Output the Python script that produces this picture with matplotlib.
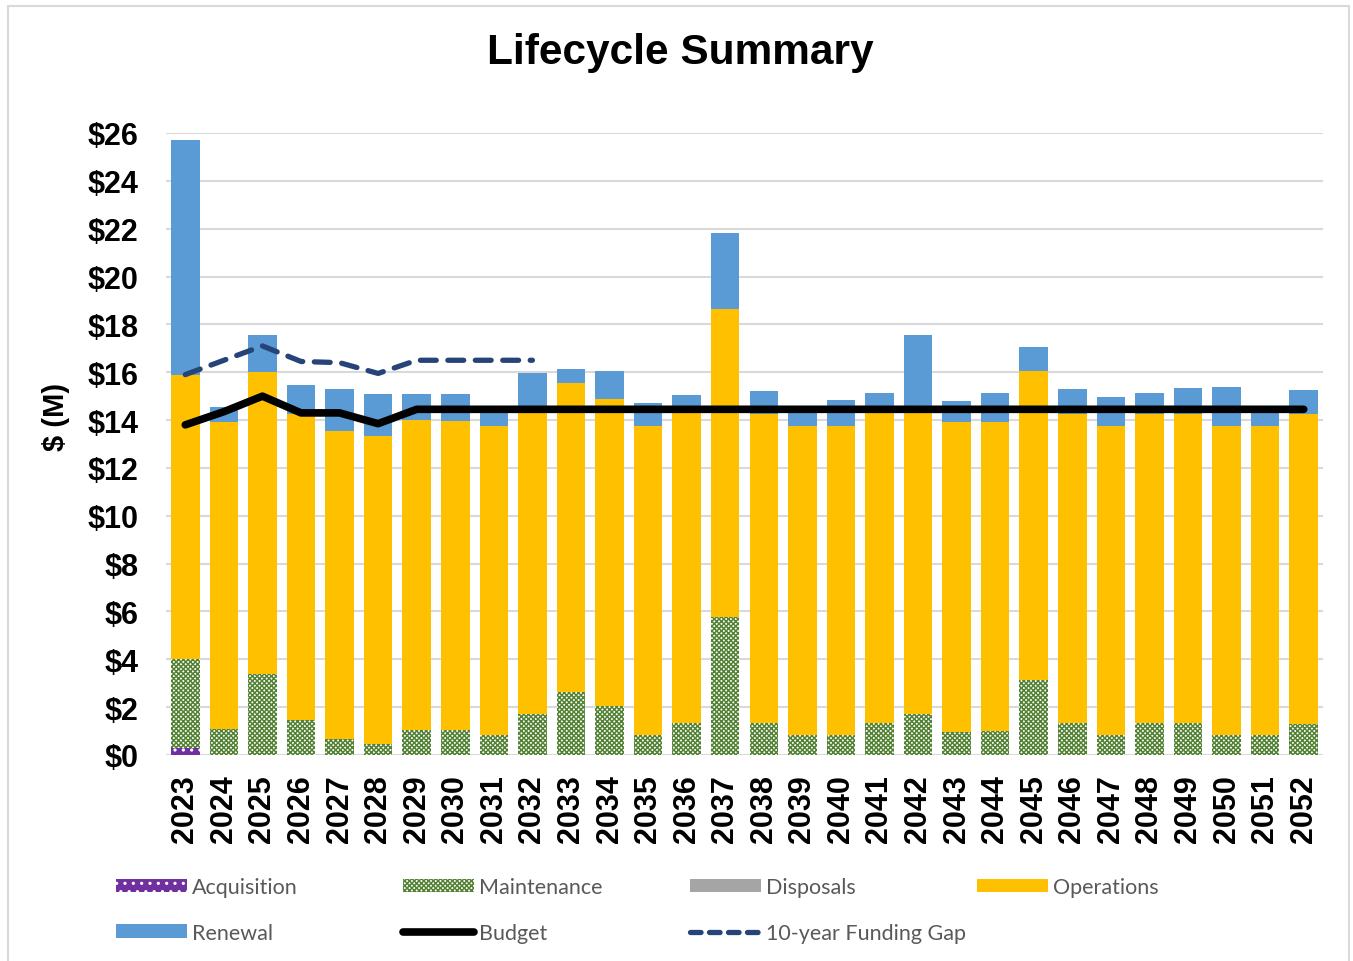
import matplotlib.pyplot as plt
from matplotlib.patches import Patch, Rectangle
from matplotlib.lines import Line2D
import numpy as np

plt.rcParams['hatch.linewidth'] = 1.1

years = [str(y) for y in range(2023, 2053)]

acquisition = [0.3] + [0.0] * 29
maintenance = [3.7, 1.1, 3.4, 1.45, 0.65, 0.45, 1.05, 1.05, 0.85, 1.7,
               2.65, 2.05, 0.85, 1.35, 5.75, 1.35, 0.85, 0.85, 1.35, 1.7,
               0.95, 1.0, 3.15, 1.35, 0.85, 1.35, 1.35, 0.85, 0.85, 1.3]
disposals = [0.0] * 30
operations = [11.9, 12.8, 12.6, 12.8, 12.9, 12.9, 12.95, 12.9, 12.9, 12.6,
              12.9, 12.85, 12.9, 12.95, 12.9, 12.9, 12.9, 12.9, 12.95, 12.9,
              12.95, 12.9, 12.9, 12.9, 12.9, 12.9, 12.9, 12.9, 12.9, 12.95]
renewal = [9.8, 0.65, 1.55, 1.2, 1.75, 1.75, 1.1, 1.15, 0.55, 1.65,
           0.6, 1.15, 0.95, 0.75, 3.15, 0.95, 0.55, 1.1, 0.85, 2.95,
           0.9, 1.25, 1.0, 1.05, 1.2, 0.9, 1.1, 1.65, 0.55, 1.0]
budget = [13.8, 14.35, 15.0, 14.3, 14.3, 13.85] + [14.45] * 24
funding_gap = [15.9, 16.5, 17.1, 16.45, 16.4, 15.95, 16.5, 16.5, 16.5, 16.5]

# colours
c_acq = '#7030A0'
c_maint = '#548235'
c_disp = '#A5A5A5'
c_ops = '#FFC000'
c_ren = '#5B9BD5'
c_gap = '#264478'

fig = plt.figure(figsize=(13.53, 9.62), dpi=100)
ax = fig.add_axes([166 / 1353, 1 - 756 / 962, (1323 - 166) / 1353, (756 - 134) / 962])

x = np.arange(len(years))
w = 0.74
bottom = np.zeros(len(years))

ax.bar(x, acquisition, w, bottom=bottom, color=c_acq, edgecolor='white', hatch='..', linewidth=0, zorder=2)
bottom += acquisition
ax.bar(x, maintenance, w, bottom=bottom, color='white', edgecolor=c_maint, hatch='xxxxxxx', linewidth=0, zorder=2)
bottom += maintenance
ax.bar(x, disposals, w, bottom=bottom, color=c_disp, linewidth=0, zorder=2)
bottom += disposals
ax.bar(x, operations, w, bottom=bottom, color=c_ops, linewidth=0, zorder=2)
bottom += operations
ax.bar(x, renewal, w, bottom=bottom, color=c_ren, linewidth=0, zorder=2)

ax.plot(x, budget, color='black', lw=5.5, solid_capstyle='round', solid_joinstyle='round', zorder=4)
ax.plot(x[:len(funding_gap)], funding_gap, color=c_gap, lw=3.8, dashes=(3, 2.2),
        dash_capstyle='round', zorder=4)

ax.set_xlim(-0.5, 29.5)
ax.set_ylim(0, 26)
ax.set_yticks(range(0, 27, 2))
ax.set_yticklabels(['$%d' % v for v in range(0, 27, 2)])
ax.set_xticks(x)
ax.set_xticklabels(years, rotation=90)
ax.grid(axis='y', color='#D9D9D9', lw=1.5, zorder=0)
ax.set_axisbelow(True)
for s in ax.spines.values():
    s.set_visible(False)
ax.axhline(0, color='#D9D9D9', lw=2, zorder=1)
ax.tick_params(axis='y', length=0, pad=20)
ax.tick_params(axis='x', length=0, pad=14)
for lab in ax.get_xticklabels() + ax.get_yticklabels():
    lab.set_fontfamily('Liberation Sans')
    lab.set_fontweight('bold')
    lab.set_fontsize(22)

ax.set_ylabel('$ (M)', fontfamily='Liberation Sans', fontweight='bold', fontsize=21)
ax.yaxis.set_label_coords(-0.083, (756 - 417) / (756 - 134))

fig.text(680 / 1353, 1 - 53 / 962, 'Lifecycle Summary', ha='center', va='center',
         fontfamily='Liberation Sans', fontweight='bold', fontsize=30.5)

# outer frame
fig.add_artist(Rectangle((8 / 1353, -0.01), (1349 - 8) / 1353, 1.01 - 7 / 962,
                         transform=fig.transFigure, fill=False, edgecolor='#D9D9D9', lw=1.5))

# legend, laid out in four fixed columns like the original
h_acq = Patch(facecolor=c_acq, edgecolor='white', hatch='..', linewidth=0)
h_maint = Patch(facecolor='white', edgecolor=c_maint, hatch='xxxxxxx', linewidth=0)
h_disp = Patch(facecolor=c_disp, linewidth=0)
h_ops = Patch(facecolor=c_ops, linewidth=0)
h_ren = Patch(facecolor=c_ren, linewidth=0)
h_bud = Line2D([], [], color='black', lw=5.5, solid_capstyle='round')
h_gap = Line2D([], [], color=c_gap, lw=3.8, dashes=(2, 1.6), dash_capstyle='round')

cols = [([h_acq, h_ren], ['Acquisition', 'Renewal']),
        ([h_maint, h_bud], ['Maintenance', 'Budget']),
        ([h_disp, h_gap], ['Disposals', '10-year Funding Gap']),
        ([h_ops], ['Operations'])]
col_x = [116, 403, 690, 977]
for (hs, ls), cx in zip(cols, col_x):
    leg = fig.legend(hs, ls, loc='upper left', bbox_to_anchor=(cx / 1353, 1 - 878 / 962),
                     frameon=False, borderpad=0, borderaxespad=0, handlelength=3.3,
                     handleheight=0.6, handletextpad=0.25, labelspacing=1.2,
                     prop={'family': 'Lato', 'size': 15.5})
    for t in leg.get_texts():
        t.set_color('#595959')

fig.savefig('out.png', dpi=100)
